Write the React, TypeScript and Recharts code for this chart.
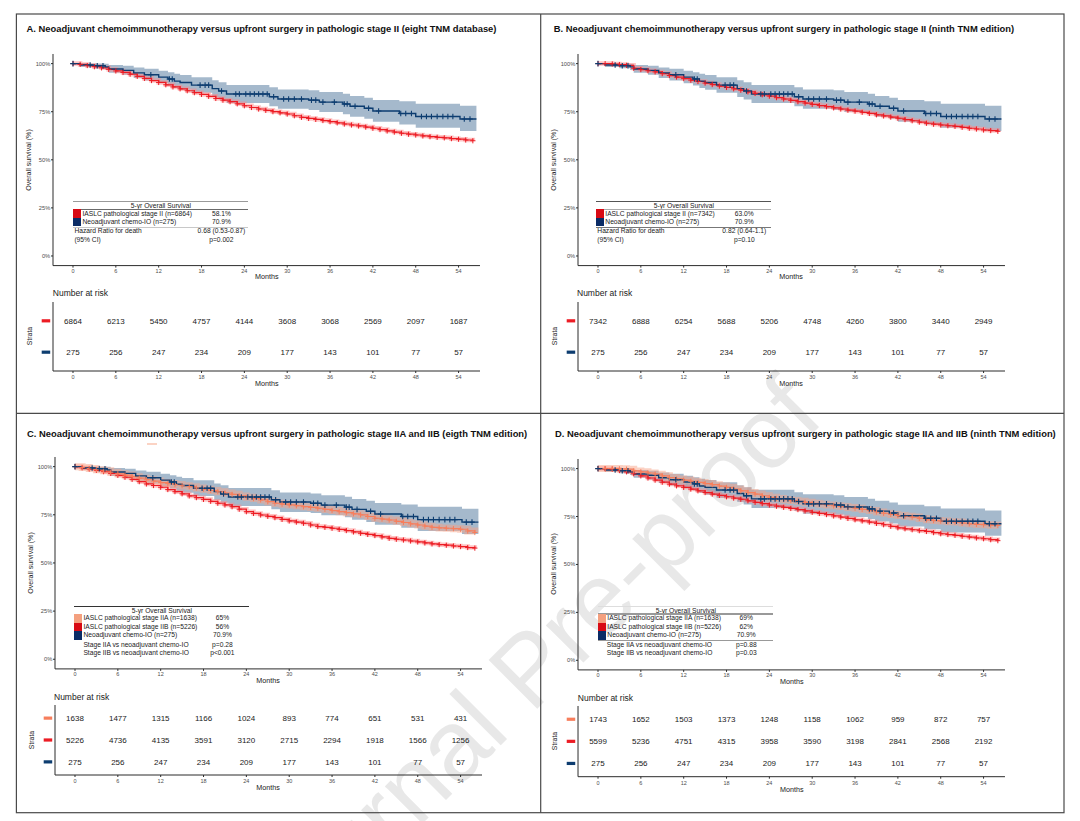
import React from 'react';
import { ComposedChart, Line, Area, XAxis, YAxis } from 'recharts';

const FONT = '"Liberation Sans", Arial, Helvetica, sans-serif';

// ---------- data ----------
const MONTHS = [0, 1, 2, 3, 4, 5, 6, 7, 8, 9, 10, 11, 12, 13, 14, 15, 16, 17, 18, 19, 20, 21, 22, 23, 24, 25, 26, 27, 28, 29, 30, 31, 32, 33, 34, 35, 36, 37, 38, 39, 40, 41, 42, 43, 44, 45, 46, 47, 48, 49, 50, 51, 52, 53, 54, 55, 56];
const MONTH_TICKS = [0, 6, 12, 18, 24, 30, 36, 42, 48, 54];
const SURV_TICKS = [0, 25, 50, 75, 100];

const redA = [100, 99.6, 99.0, 98.4, 97.8, 97.0, 96.2, 95.4, 94.5, 93.4, 92.3, 91.2, 90.2, 89.0, 87.9, 86.9, 85.9, 84.9, 84.0, 83.0, 81.9, 81.0, 80.2, 79.1, 78.1, 77.2, 76.4, 75.7, 75.0, 74.4, 73.8, 72.9, 72.1, 71.5, 71.0, 70.4, 69.8, 69.2, 68.6, 68.1, 67.6, 67.0, 66.4, 65.7, 65.0, 64.4, 63.8, 63.3, 62.9, 62.4, 62.0, 61.7, 61.4, 61.0, 60.7, 60.3, 59.9];
const redB = [100, 100, 99.8, 99.5, 99.1, 97.6, 96.9, 96.3, 95.7, 94.8, 93.8, 93.0, 92.2, 91.4, 90.7, 89.9, 89.1, 88.3, 87.6, 86.9, 86.2, 85.3, 84.5, 83.8, 83.1, 82.3, 81.6, 80.9, 80.2, 79.5, 78.8, 78.2, 77.6, 77.0, 76.4, 75.8, 75.3, 74.7, 74.1, 73.4, 72.8, 72.2, 71.6, 70.9, 70.3, 69.6, 69.0, 68.5, 68.1, 67.7, 67.4, 66.9, 66.4, 66.0, 65.5, 65.2, 64.8];
const redC = [100, 99.4, 98.8, 98.1, 97.4, 96.5, 95.5, 94.5, 93.4, 92.2, 91.0, 90.2, 89.3, 88.1, 87.0, 85.9, 84.8, 83.9, 83.0, 82.0, 81.0, 80.1, 79.2, 77.9, 76.6, 75.7, 74.9, 74.2, 73.5, 72.6, 71.8, 71.2, 70.6, 69.7, 68.9, 68.5, 68.0, 67.4, 66.8, 66.1, 65.4, 64.8, 64.2, 63.5, 62.8, 62.3, 61.9, 61.4, 60.9, 60.4, 59.9, 59.5, 59.2, 58.8, 58.5, 58.0, 57.7];
const salmonC = [100, 99.6, 99.0, 98.4, 97.8, 97.1, 96.3, 95.6, 94.8, 94.0, 93.2, 92.5, 91.7, 91.2, 90.7, 90.1, 89.6, 88.9, 88.3, 87.6, 87.0, 86.3, 85.6, 84.8, 84.1, 83.4, 82.7, 81.8, 81.0, 80.5, 80.1, 79.7, 79.2, 78.8, 78.4, 77.8, 77.2, 76.6, 76.1, 75.5, 75.0, 74.1, 73.2, 72.8, 72.3, 71.6, 71.0, 70.3, 69.7, 69.1, 68.5, 68.2, 68.0, 67.8, 67.5, 66.6, 65.8];
const redD = [100, 99.9, 99.7, 99.0, 98.3, 97.3, 96.2, 95.1, 94.0, 92.9, 91.9, 91.0, 90.2, 89.3, 88.4, 87.5, 86.7, 86.0, 85.3, 84.6, 84.0, 83.2, 82.4, 81.7, 81.0, 80.4, 79.8, 79.2, 78.6, 77.9, 77.2, 76.6, 76.0, 75.3, 74.7, 74.0, 73.3, 72.7, 72.1, 71.4, 70.7, 69.9, 69.1, 68.6, 68.1, 67.6, 67.2, 66.6, 66.0, 65.6, 65.2, 64.7, 64.3, 63.8, 63.4, 62.9, 62.4];
const salmonD = [100, 100, 100, 99.9, 99.7, 98.8, 98.3, 97.7, 97.1, 96.2, 95.3, 94.6, 94.0, 93.4, 92.8, 92.2, 91.6, 90.9, 90.2, 89.3, 88.4, 87.5, 86.7, 85.8, 85.0, 84.4, 83.8, 83.3, 82.9, 82.4, 81.9, 81.4, 81.0, 80.6, 80.2, 79.7, 79.3, 78.7, 78.1, 77.4, 76.7, 76.1, 75.5, 75.1, 74.7, 74.0, 73.3, 72.9, 72.6, 72.3, 72.1, 71.6, 71.2, 70.9, 70.7, 70.5, 70.3];

const navyTimes = [0, 1, 3, 4.5, 5, 7, 8.5, 10, 12, 13.3, 14.2, 15, 16.6, 19.5, 20.4, 21.5, 27.5, 28.7, 33, 34.5, 37.8, 38.8, 40.8, 42, 45.7, 48, 54.2, 56.5];
const navySurv = [100, 99.3, 98.9, 98.3, 97.2, 96.5, 95.2, 94.2, 93.0, 92.0, 90.9, 90.2, 88.8, 87.0, 85.8, 84.2, 82.8, 81.6, 81.0, 80.0, 79.0, 77.8, 76.8, 75.4, 74.1, 72.5, 71.2, 71.2];
const navyUpper = [100, 100, 100, 99.9, 99.3, 98.9, 98.0, 97.3, 96.3, 95.5, 94.7, 94.1, 92.9, 91.3, 90.3, 88.9, 87.7, 86.6, 86.1, 85.2, 84.3, 83.2, 82.3, 81.1, 80.4, 79.2, 78.1, 78.1];
const navyLower = [100, 98.3, 97.6, 96.7, 95.2, 94.2, 92.5, 91.2, 89.8, 88.6, 87.3, 86.4, 84.8, 82.7, 81.3, 79.5, 77.9, 76.5, 75.9, 74.8, 73.7, 72.4, 71.3, 69.8, 68.3, 66.6, 65.0, 65.0];
const navyCensorTimes = [0, 2.4, 3.4, 4.2, 10.9, 13.5, 13.9, 17.8, 18.5, 19, 20.8, 22.8, 23.3, 24.2, 24.8, 25.4, 26, 26.6, 27.2, 28.1, 29.5, 30.2, 31, 32, 33.4, 34, 35, 36.6, 38, 38.4, 39.5, 41.4, 42.8, 45.9, 46.6, 47.4, 48.8, 49.5, 50.2, 51, 51.8, 52.5, 53.2, 54.8, 55.6];

const riskNavy = [275, 256, 247, 234, 209, 177, 143, 101, 77, 57];
const riskRedA = [6864, 6213, 5450, 4757, 4144, 3608, 3068, 2569, 2097, 1687];
const riskRedB = [7342, 6888, 6254, 5688, 5206, 4748, 4260, 3800, 3440, 2949];
const riskSalmonC = [1638, 1477, 1315, 1166, 1024, 893, 774, 651, 531, 431];
const riskRedC = [5226, 4736, 4135, 3591, 3120, 2715, 2294, 1918, 1566, 1256];
const riskSalmonD = [1743, 1652, 1503, 1373, 1248, 1158, 1062, 959, 872, 757];
const riskRedD = [5599, 5236, 4751, 4315, 3958, 3590, 3198, 2841, 2568, 2192];

const fiveYrA = ['58.1%', '70.9%'];
const fiveYrB = ['63.0%', '70.9%'];
const fiveYrC = ['65%', '56%', '70.9%'];
const fiveYrD = ['69%', '62%', '70.9%'];

// ---------- styles ----------
const RED = '#ec1c24';
const RED_BAND = '#ff8a8a';
const SALMON = '#f77e5c';
const SALMON_BAND = '#f7a488';
const NAVY = '#0d3d70';
const NAVY_BAND = '#1f5080';
const AXIS = '#2b2b2b';
const TICK_TXT = '#4d4d4d';
const SQ_RED = '#d80a14';
const SQ_NAVY = '#0b2c66';
const SQ_SALMON = '#f4a07f';

const PLOT_W = 427;
const X_DOMAIN: [number, number] = [-2.8, 57];

// ---------- derived series ----------
const monthly = (vals: number[]) => MONTHS.map((t, i) => ({ t, s: vals[i] }));
const navyAt = (t: number) => {
  let v = navySurv[0];
  for (let i = 0; i < navyTimes.length; i++) if (navyTimes[i] <= t) v = navySurv[i];
  return v;
};
const navyData = navyTimes.map((t, i) => ({ t, s: navySurv[i], ci: [navyLower[i], navyUpper[i]] }));
const navyCensor = navyCensorTimes.map((t) => ({ t, s: navyAt(t) }));

const plusDot = (color: string, r: number, sw: number) => (p: any) => {
  const { cx, cy, index } = p;
  if (typeof cx !== 'number' || typeof cy !== 'number') return <g key={`n${index}`} />;
  return (
    <path key={`p${index}`} d={`M${cx - r},${cy}H${cx + r}M${cx},${cy - r}V${cy + r}`} stroke={color} strokeWidth={sw} fill="none" />
  );
};

const numDot = (p: any) => {
  const { cx, cy, index, payload } = p;
  if (typeof cx !== 'number' || typeof cy !== 'number') return <g key={`n${index}`} />;
  return (
    <text key={`t${index}`} x={cx} y={cy} dy="0.36em" textAnchor="middle" fontSize={8} fill="#1a1a1a" fontFamily={FONT}>
      {payload.n}
    </text>
  );
};

// ---------- small helpers ----------
function Txt({ x, y, size, anchor = 'start', color = '#1a1a1a', weight = 400, rotate, children }: any) {
  const tx = anchor === 'middle' ? '-50%' : anchor === 'end' ? '-100%' : '0';
  return (
    <div
      style={{
        position: 'absolute', left: x, top: y, fontSize: size, lineHeight: 1, whiteSpace: 'nowrap',
        fontFamily: FONT, color, fontWeight: weight,
        transform: `translate(${tx},-50%)${rotate ? ` rotate(${rotate}deg)` : ''}`,
      }}
    >
      {children}
    </div>
  );
}

function Rule({ x, y, w, c, t }: any) {
  return <div style={{ position: 'absolute', left: x, top: y - t / 2, width: w, height: t, background: c }} />;
}

// ---------- charts ----------
function KMChart({ g, curves }: any) {
  const width = 40 + PLOT_W + 12;
  const height = 10 + g.kmH + 16;
  return (
    <div style={{ position: 'absolute', left: g.plotLeft - 40, top: g.kmTop - 10 }}>
      <ComposedChart width={width} height={height} margin={{ top: 10, right: 12, bottom: 4, left: 10 }}>
        <XAxis type="number" dataKey="t" domain={X_DOMAIN} ticks={MONTH_TICKS} interval={0} allowDataOverflow height={12}
          tickSize={2} tickMargin={1.3} stroke={AXIS} tick={{ fontSize: 5.5, fill: TICK_TXT, fontFamily: FONT }} />
        <YAxis type="number" domain={[-5, 105]} ticks={SURV_TICKS} interval={0} allowDataOverflow width={30}
          tickSize={2} tickMargin={0.8} stroke={AXIS} tick={{ fontSize: 5.7, fill: TICK_TXT, fontFamily: FONT }}
          tickFormatter={(v: number) => `${v}%`} />
        <Area data={navyData} dataKey="ci" type="stepAfter" stroke="none" fill={NAVY_BAND} fillOpacity={0.4}
          isAnimationActive={false} activeDot={false} />
        {curves.map((c: any) => (
          <Line key={`${c.key}-band`} data={c.data} dataKey="s" type="stepAfter" stroke={c.band} strokeWidth={c.bandW}
            strokeOpacity={0.5} dot={false} activeDot={false} isAnimationActive={false} />
        ))}
        {curves.map((c: any) => (
          <Line key={c.key} data={c.data} dataKey="s" type="stepAfter" stroke={c.color} strokeWidth={1.2}
            dot={plusDot(c.color, 2.6, 1)} activeDot={false} isAnimationActive={false} />
        ))}
        <Line data={navyData} dataKey="s" type="stepAfter" stroke={NAVY} strokeWidth={1.4} dot={false}
          activeDot={false} isAnimationActive={false} />
        <Line data={navyCensor} dataKey="s" stroke="none" dot={plusDot(NAVY, 2.8, 1.1)} activeDot={false}
          isAnimationActive={false} />
      </ComposedChart>
    </div>
  );
}

function RiskChart({ g, rows }: any) {
  const n = rows.length;
  const h = g.riskBottom - g.riskTop;
  const dashTick = (p: any) => {
    const { x, y, payload } = p;
    const row = rows[payload.value - 1];
    return <rect x={x - 11.3} y={y - 1.6} width={8.5} height={3.2} fill={row ? row.color : 'none'} />;
  };
  return (
    <div style={{ position: 'absolute', left: g.plotLeft - 40, top: g.riskTop - 10 }}>
      <ComposedChart width={40 + PLOT_W + 12} height={10 + h + 14} margin={{ top: 10, right: 12, bottom: 2, left: 10 }}>
        <XAxis type="number" dataKey="t" domain={X_DOMAIN} ticks={MONTH_TICKS} interval={0} allowDataOverflow height={12}
          tickSize={2} tickMargin={2.5} stroke={AXIS} tick={{ fontSize: 5.5, fill: TICK_TXT, fontFamily: FONT }} />
        <YAxis type="number" domain={[0.4, n + 0.6]} reversed ticks={rows.map((_: any, i: number) => i + 1)} interval={0}
          width={30} tickSize={0} tickMargin={0} tickLine={false} stroke={AXIS} tick={dashTick} />
        {rows.map((r: any, i: number) => (
          <Line key={`r${i}`} data={MONTH_TICKS.map((t, j) => ({ t, row: i + 1, n: r.values[j] }))} dataKey="row"
            stroke="none" dot={numDot} activeDot={false} isAnimationActive={false} />
        ))}
      </ComposedChart>
    </div>
  );
}

function Legend({ L }: any) {
  const rowH = 8.5;
  const W = 175;
  const rowsTop = L.y0 + 8.1;
  const rowsEnd = rowsTop + L.rows.length * rowH;
  return (
    <>
      <Rule x={L.x} y={L.y0} w={W} c={L.rules[0].c} t={L.rules[0].t} />
      <Txt x={L.x + 87.5} y={L.y0 + 4.5} size={6.7} anchor="middle">5-yr Overall Survival</Txt>
      {L.rules[1] && <Rule x={L.x} y={L.y0 + 8} w={W} c={L.rules[1].c} t={L.rules[1].t} />}
      {L.rows.map((r: any, i: number) => (
        <React.Fragment key={`lr${i}`}>
          <div style={{ position: 'absolute', left: L.x, top: rowsTop + i * rowH, width: 7.7, height: rowH, background: r.color }} />
          <Txt x={L.x + 9} y={rowsTop + i * rowH + rowH / 2} size={6.7}>{r.label}</Txt>
          <Txt x={L.x + 148} y={rowsTop + i * rowH + rowH / 2} size={6.7} anchor="middle">{r.value}</Txt>
        </React.Fragment>
      ))}
      {L.rules[2] && <Rule x={L.x} y={rowsEnd + 1} w={W} c={L.rules[2].c} t={L.rules[2].t} />}
      {L.notes.map((nt: any, i: number) => (
        <React.Fragment key={`ln${i}`}>
          <Txt x={L.x + L.noteIndent} y={rowsEnd + 5 + i * 8.6} size={6.7}>{nt.label}</Txt>
          <Txt x={L.x + 148} y={rowsEnd + 5 + i * 8.6} size={6.7} anchor="middle">{nt.value}</Txt>
        </React.Fragment>
      ))}
    </>
  );
}

// ---------- panels ----------
const geomA = { plotLeft: 53.3, kmTop: 53.7, kmH: 211.6, riskTop: 301.7, riskBottom: 370.7, titleX: 26.6, titleY: 29.3 };
const geomB = { plotLeft: 577.5, kmTop: 53.7, kmH: 211.6, riskTop: 301.7, riskBottom: 370.7, titleX: 553.7, titleY: 29.3 };
const geomC = { plotLeft: 54.5, kmTop: 457.1, kmH: 211.9, riskTop: 705, riskBottom: 775, titleX: 27, titleY: 434 };
const geomD = { plotLeft: 578.3, kmTop: 458.7, kmH: 210.9, riskTop: 706, riskBottom: 776.7, titleX: 555, titleY: 433.5 };

const redCurve = (key: string, vals: number[]) => ({ key, data: monthly(vals), color: RED, band: RED_BAND, bandW: 4.5 });
const salmonCurve = (key: string, vals: number[]) => ({ key, data: monthly(vals), color: SALMON, band: SALMON_BAND, bandW: 7 });

const PANELS = [
  {
    id: 'A', g: geomA,
    title: 'A. Neoadjuvant chemoimmunotherapy versus upfront surgery in pathologic stage II (eight TNM database)',
    curves: [redCurve('redA', redA)],
    risk: [{ color: RED, values: riskRedA }, { color: NAVY, values: riskNavy }],
    legend: {
      x: 73.4, y0: 201.3, noteIndent: 1,
      rules: [{ c: '#9a9a9a', t: 1 }, { c: '#6a6a6a', t: 1.5 }, { c: '#c8c8c8', t: 1 }],
      rows: [
        { color: SQ_RED, label: 'IASLC pathological stage II (n=6864)', value: fiveYrA[0] },
        { color: SQ_NAVY, label: 'Neoadjuvant chemo-IO (n=275)', value: fiveYrA[1] },
      ],
      notes: [{ label: 'Hazard Ratio for death', value: '0.68 (0.53-0.87)' }, { label: '(95% CI)', value: 'p=0.002' }],
    },
  },
  {
    id: 'B', g: geomB,
    title: 'B. Neoadjuvant chemoimmunotherapy versus upfront surgery in pathologic stage II (ninth TNM edition)',
    curves: [redCurve('redB', redB)],
    risk: [{ color: RED, values: riskRedB }, { color: NAVY, values: riskNavy }],
    legend: {
      x: 596.3, y0: 201.3, noteIndent: 1,
      rules: [{ c: '#555555', t: 1 }, { c: '#aaaaaa', t: 1.3 }, { c: '#777777', t: 1.2 }],
      rows: [
        { color: SQ_RED, label: 'IASLC pathological stage II (n=7342)', value: fiveYrB[0] },
        { color: SQ_NAVY, label: 'Neoadjuvant chemo-IO (n=275)', value: fiveYrB[1] },
      ],
      notes: [{ label: 'Hazard Ratio for death', value: '0.82 (0.64-1.1)' }, { label: '(95% CI)', value: 'p=0.10' }],
    },
  },
  {
    id: 'C', g: geomC,
    title: 'C. Neoadjuvant chemoimmunotherapy versus upfront surgery in pathologic stage IIA and IIB (eigth TNM edition)',
    curves: [redCurve('redC', redC), salmonCurve('salC', salmonC)],
    risk: [{ color: SALMON, values: riskSalmonC }, { color: RED, values: riskRedC }, { color: NAVY, values: riskNavy }],
    legend: {
      x: 74.4, y0: 606, noteIndent: 9,
      rules: [{ c: '#333333', t: 1 }],
      rows: [
        { color: SQ_SALMON, label: 'IASLC pathological stage IIA (n=1638)', value: fiveYrC[0] },
        { color: SQ_RED, label: 'IASLC pathological stage IIB (n=5226)', value: fiveYrC[1] },
        { color: SQ_NAVY, label: 'Neoadjuvant chemo-IO (n=275)', value: fiveYrC[2] },
      ],
      notes: [{ label: 'Stage IIA vs neoadjuvant chemo-IO', value: 'p=0.28' }, { label: 'Stage IIB vs neoadjuvant chemo-IO', value: 'p<0.001' }],
    },
  },
  {
    id: 'D', g: geomD,
    title: 'D. Neoadjuvant chemoimmunotherapy versus upfront surgery in pathologic stage IIA and IIB (ninth TNM edition)',
    curves: [redCurve('redD', redD), salmonCurve('salD', salmonD)],
    risk: [{ color: SALMON, values: riskSalmonD }, { color: RED, values: riskRedD }, { color: NAVY, values: riskNavy }],
    legend: {
      x: 598.3, y0: 606, noteIndent: 8.5,
      rules: [{ c: '#dddddd', t: 1 }, { c: '#999999', t: 1.6 }, { c: '#999999', t: 1.6 }],
      rows: [
        { color: SQ_SALMON, label: 'IASLC pathological stage IIA (n=1638)', value: fiveYrD[0] },
        { color: SQ_RED, label: 'IASLC pathological stage IIB (n=5226)', value: fiveYrD[1] },
        { color: SQ_NAVY, label: 'Neoadjuvant chemo-IO (n=275)', value: fiveYrD[2] },
      ],
      notes: [{ label: 'Stage IIA vs neoadjuvant chemo-IO', value: 'p=0.88' }, { label: 'Stage IIB vs neoadjuvant chemo-IO', value: 'p=0.03' }],
    },
  },
];

function Panel({ p }: any) {
  const g = p.g;
  return (
    <>
      <Txt x={g.titleX} y={g.titleY} size={9.4} weight={700} color="#111">{p.title}</Txt>
      <KMChart g={g} curves={p.curves} />
      <Txt x={g.plotLeft - 23} y={g.kmTop + g.kmH / 2} size={7.1} rotate={-90} anchor="middle">Overall survival (%)</Txt>
      <Txt x={g.plotLeft + PLOT_W / 2} y={g.kmTop + g.kmH + 12} size={7.2} anchor="middle">Months</Txt>
      <Legend L={p.legend} />
      <Txt x={g.plotLeft - 0.5} y={g.riskTop - 8.5} size={8.5}>Number at risk</Txt>
      <RiskChart g={g} rows={p.risk} />
      <Txt x={g.plotLeft - 23} y={(g.riskTop + g.riskBottom) / 2} size={6.9} rotate={-90} anchor="middle">Strata</Txt>
      <Txt x={g.plotLeft + PLOT_W / 2} y={g.riskBottom + 13} size={7.2} anchor="middle">Months</Txt>
    </>
  );
}

export default function App() {
  const bc = '#4a4a4a';
  return (
    <div style={{ position: 'absolute', left: 0, top: 0, width: 1080, height: 821, background: '#fff', overflow: 'hidden', fontFamily: FONT }}>
      <svg width={1080} height={821} style={{ position: 'absolute', left: 0, top: 0 }}>
        <text x={553} y={693} transform="rotate(-45 553 693)" textAnchor="middle" fontSize={100} fill="#e8e8e8" fontFamily={FONT}>
          Journal Pre-proof
        </text>
        <rect x={16.4} y={14} width={1047.6} height={798.7} fill="none" stroke={bc} strokeWidth={1.2} />
        <line x1={540.7} y1={14} x2={540.7} y2={812.7} stroke={bc} strokeWidth={1.2} />
        <line x1={16.4} y1={413.3} x2={1064} y2={413.3} stroke={bc} strokeWidth={1.2} />
      </svg>
      <div style={{ position: 'absolute', left: 146.8, top: 443.3, width: 10, height: 2, background: '#fbd3c4' }} />
      {PANELS.map((p) => <Panel key={p.id} p={p} />)}
    </div>
  );
}
